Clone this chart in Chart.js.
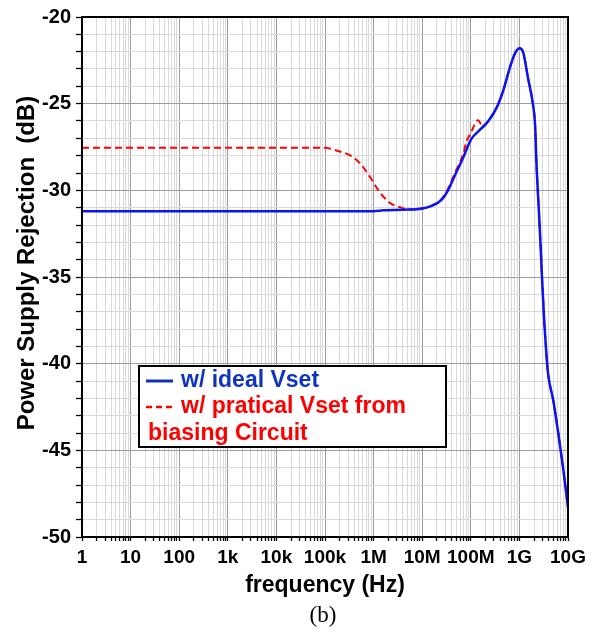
<!DOCTYPE html>
<html>
<head>
<meta charset="utf-8">
<script src="https://cdn.jsdelivr.net/npm/chart.js@4"></script>
<style>
  html, body { margin: 0; padding: 0; background: #fff; }
  canvas { display: block; }
</style>
</head>
<body>
<canvas id="psr-chart" width="599" height="632"></canvas>
<script>
// values (frequency in Hz, PSR in dB)
const freqIdeal = [1, 1e6, 1.6e6, 4e6, 1e7, 1.6e7, 2.5e7, 3.4e7, 4.7e7, 7e7, 1.02e8, 1.55e8,
  2.3e8, 3.4e8, 4.7e8, 6.3e8, 8.1e8, 1e9, 1.2e9, 1.5e9, 1.9e9, 2.1e9, 2.25e9, 2.55e9,
  2.75e9, 2.95e9, 3.25e9, 3.6e9, 3.9e9, 5e9, 6.3e9, 8e9, 1e10];
const psrIdeal = [-31.2, -31.2, -31.15, -31.12, -31.05, -30.88, -30.55, -30.0, -29.14, -28.1, -27.05, -26.5,
  -26.0, -25.23, -24.2, -22.96, -22.1, -21.8, -22.05, -23.5, -25.04, -26.2, -28.5, -31.5,
  -33.4, -35.3, -37.6, -39.5, -40.6, -42.15, -44.0, -46.1, -48.3];

const freqBias = [1, 1e5, 1.7e5, 3.2e5, 5.1e5, 8.3e5, 1.3e6, 2.1e6, 3.7e6, 5.5e6, 1e7, 1.6e7,
  2.5e7, 3.4e7, 4.7e7, 7e7, 8.1e7, 1e8, 1.2e8, 1.4e8, 1.55e8, 1.75e8, 2.3e8, 3.4e8,
  4.7e8, 6.3e8, 8.1e8, 1e9, 1.2e9, 1.5e9, 1.9e9, 2.1e9, 2.25e9, 2.55e9, 2.75e9, 2.95e9,
  3.25e9, 3.6e9, 3.9e9, 5e9, 6.3e9, 8e9, 1e10];
const psrBias = [-27.55, -27.55, -27.7, -27.97, -28.4, -29.2, -30.05, -30.7, -31.0, -31.1, -31.05, -30.88,
  -30.5, -29.9, -29.0, -27.9, -27.2, -26.7, -26.2, -25.95, -26.1, -26.35, -26.0, -25.23,
  -24.2, -22.96, -22.1, -21.8, -22.05, -23.5, -25.04, -26.2, -28.5, -31.5, -33.4, -35.3,
  -37.6, -39.5, -40.6, -42.15, -44.0, -46.1, -48.3];

const seriesNames = [["w/ ideal Vset"], ["w/ pratical Vset from", "biasing Circuit"]];
const xTickLabels = ["1", "10", "100", "1k", "10k", "100k", "1M", "10M", "100M", "1G", "10G"];
const yTitle = "Power Supply Rejection  (dB)";

const BLUE = "#0a14f0";
const BLUE_TEXT = "#0f32c4";
const RED = "#ff0000";
const GRID_MAJOR = "#9c9c9c";
const GRID_MINOR = "#d9d9d9";
const SANS = "'Liberation Sans', Arial, sans-serif";

const isDecade = (v) => {
  const e = Math.log10(v);
  return Math.abs(e - Math.round(e)) < 1e-9;
};

const toPoints = (xs, ys) => xs.map((x, i) => ({ x: x, y: ys[i] }));

// black box round the plot, y title, legend box and the "(b)" caption
const extras = {
  id: "extras",
  afterDatasetsDraw(chart) {
    const { ctx, chartArea: a } = chart;
    ctx.save();
    ctx.strokeStyle = "#000";
    ctx.lineWidth = 2;
    ctx.strokeRect(a.left, a.top, a.right - a.left, a.bottom - a.top);
    ctx.restore();
  },
  afterDraw(chart) {
    const { ctx } = chart;
    const ds = chart.data.datasets;
    ctx.save();

    // y axis title, sits a bit above the middle of the plot like the original
    ctx.save();
    ctx.translate(27, 263);
    ctx.rotate(-Math.PI / 2);
    ctx.fillStyle = "#000";
    ctx.font = "bold 24px " + SANS;
    ctx.textAlign = "center";
    ctx.textBaseline = "middle";
    ctx.fillText(yTitle, 0, 0);
    ctx.restore();

    // legend
    ctx.fillStyle = "#fff";
    ctx.fillRect(139, 366, 307, 81);
    ctx.strokeStyle = "#000";
    ctx.lineWidth = 2;
    ctx.strokeRect(139, 366, 307, 81);

    ctx.font = "bold 23px " + SANS;
    ctx.textBaseline = "alphabetic";
    ctx.textAlign = "left";

    ctx.strokeStyle = BLUE_TEXT;
    ctx.lineWidth = 3;
    ctx.beginPath();
    ctx.moveTo(146, 381);
    ctx.lineTo(173, 381);
    ctx.stroke();
    ctx.fillStyle = BLUE_TEXT;
    ctx.fillText(ds[0].label[0], 181, 387);

    ctx.strokeStyle = RED;
    ctx.lineWidth = 2.5;
    ctx.setLineDash([6, 4]);
    ctx.beginPath();
    ctx.moveTo(146, 407);
    ctx.lineTo(172, 407);
    ctx.stroke();
    ctx.setLineDash([]);
    ctx.fillStyle = RED;
    ctx.fillText(ds[1].label[0], 181, 413);
    ctx.fillText(ds[1].label[1], 148, 440);

    // caption
    ctx.fillStyle = "#000";
    ctx.font = "23px 'Liberation Serif', 'Times New Roman', serif";
    ctx.textAlign = "center";
    ctx.textBaseline = "middle";
    ctx.fillText("(b)", 323, 616);
    ctx.restore();
  }
};

new Chart(document.getElementById("psr-chart"), {
  type: "line",
  data: {
    datasets: [
      {
        label: seriesNames[0],
        data: toPoints(freqIdeal, psrIdeal),
        borderColor: BLUE,
        borderWidth: 2.5,
        pointRadius: 0,
        cubicInterpolationMode: "monotone",
        fill: false,
      },
      {
        label: seriesNames[1],
        data: toPoints(freqBias, psrBias),
        borderColor: RED,
        borderWidth: 2,
        borderDash: [7, 4],
        pointRadius: 0,
        cubicInterpolationMode: "monotone",
        fill: false,
      },
    ],
  },
  options: {
    responsive: false,
    animation: false,
    devicePixelRatio: 1,
    layout: { padding: { top: 13, right: 31, left: 0, bottom: 0 } },
    plugins: {
      legend: { display: false },
      tooltip: { enabled: false },
    },
    scales: {
      x: {
        type: "logarithmic",
        min: 1,
        max: 1e10,
        afterBuildTicks: (scale) => {
          scale.ticks = scale.ticks.filter((t) => {
            const m = t.value / Math.pow(10, Math.floor(Math.log10(t.value) + 1e-9));
            return Math.abs(m - Math.round(m)) < 1e-6;
          });
        },
        afterFit: (scale) => { scale.height = 95; },
        ticks: {
          autoSkip: false,
          maxRotation: 0,
          padding: 5,
          color: "#000",
          font: { family: SANS, size: 19, weight: "bold" },
          callback: (value) => (isDecade(value) ? xTickLabels[Math.round(Math.log10(value))] : ""),
        },
        grid: {
          color: (ctx) => (ctx.tick && isDecade(ctx.tick.value) ? GRID_MAJOR : GRID_MINOR),
          lineWidth: 1,
          tickColor: "#000",
          tickLength: 4,
          tickWidth: 1.3,
        },
        border: { color: "#000", width: 2 },
        title: {
          display: true,
          text: "frequency (Hz)",
          color: "#000",
          font: { family: SANS, size: 23, weight: "bold" },
          padding: { top: 0, bottom: 33 },
        },
      },
      y: {
        min: -50,
        max: -20,
        afterFit: (scale) => { scale.width = 82; },
        ticks: {
          stepSize: 1,
          autoSkip: false,
          padding: 5,
          color: "#000",
          font: { family: SANS, size: 20, weight: "bold" },
          callback: (value) => (value % 5 === 0 ? value : ""),
        },
        grid: {
          color: (ctx) => (ctx.tick && ctx.tick.value % 5 === 0 ? GRID_MAJOR : GRID_MINOR),
          lineWidth: 1,
          tickColor: "#000",
          tickLength: 6,
          tickWidth: 1.3,
        },
        border: { color: "#000", width: 2 },
        title: { display: false },
      },
    },
  },
  plugins: [extras],
});
</script>
</body>
</html>
